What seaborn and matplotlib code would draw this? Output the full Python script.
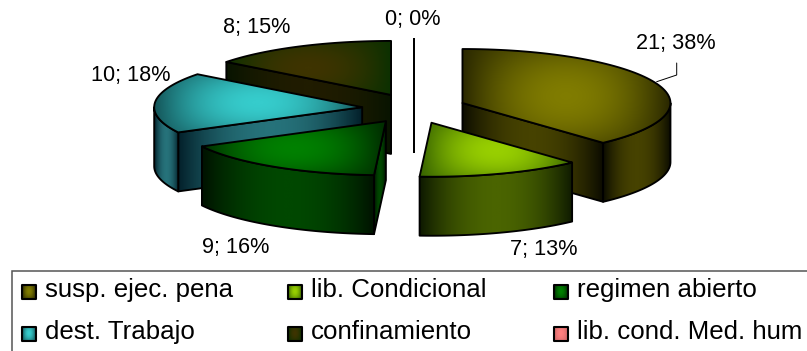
import numpy as np
import matplotlib
matplotlib.use("Agg")
import matplotlib.pyplot as plt
from matplotlib.patches import Polygon, Rectangle
import seaborn as sns

categories = ["susp. ejec. pena", "lib. Condicional", "regimen abierto",
              "dest. Trabajo", "confinamiento", "lib. cond. Med. hum"]
values = [21, 7, 9, 10, 8, 0]

# Face colours of each slice: (dark edge, bright centre)
top_shades = [("#2a2800", "#807c00"), ("#386400", "#98cf00"), ("#002c00", "#008000"),
              ("#145458", "#36cccc"), ("#0c3000", "#3e3400"), ("#cc6666", "#ff8080")]
wall_shades = [("#0c0c00", "#464200"), ("#0e1a00", "#4a6400"), ("#001200", "#004800"),
               ("#03202a", "#26727a"), ("#081400", "#201c00"), ("#662222", "#aa4444")]

# Pie geometry, in figure pixels
CX, CY = 414, 108.5
RX, RY = 208, 54
DEPTH = 59
EXPLODE_X, EXPLODE_Y = 0.25, 0.28
draw_order = [5, 4, 0, 3, 2, 1]

label_xy = [(676, 43), (544, 250), (236, 247), (131, 76), (257, 27), (413, 19)]
legend_x = [21.5, 287.5, 553.5]
legend_y = [291.5, 333.5]

sns.set_theme(style="white")
plt.rcParams["font.family"] = ["Liberation Sans", "DejaVu Sans"]

fig = plt.figure(figsize=(8.07, 3.51), dpi=100)
ax = fig.add_axes([0, 0, 1, 1])
ax.set_axis_off()
LINE = 1.35


def shaded(points, shade, mode, lw=LINE):
    """Fill a polygon with a gradient clipped to its outline and stroke it."""
    pts = np.asarray(points)
    x0, y0 = pts.min(axis=0)
    x1, y1 = pts.max(axis=0)
    if x1 - x0 >= 1 and y1 - y0 >= 1:
        xs = np.linspace(-1, 1, int(x1 - x0) + 2)
        ys = np.linspace(-1, 1, int(y1 - y0) + 2)
        u, v = np.meshgrid(xs, ys)
        t = 1 - u ** 2
        if mode == "top":
            t = t * (1 - 0.45 * v ** 2)
        cmap = sns.blend_palette(list(shade), as_cmap=True)
        im = ax.imshow(t, extent=(x0, x1, y1, y0), cmap=cmap, vmin=0, vmax=1,
                       aspect="auto", interpolation="bilinear", zorder=2)
        clip = Polygon(pts, closed=True, transform=ax.transData)
        im.set_clip_path(clip)
    ax.add_patch(Polygon(pts, closed=True, fill=False, edgecolor="black",
                         linewidth=lw, joinstyle="round", zorder=2))


def rim(cx, cy, a, b, n=80):
    th = np.radians(np.linspace(a, b, n))
    return np.column_stack([cx + RX * np.sin(th), cy - RY * np.cos(th)])


total = sum(values)
ends = np.cumsum(values) / total * 360
starts = np.concatenate([[0], ends[:-1]])

for i in draw_order:
    a, b = starts[i], ends[i]
    mid = np.radians((a + b) / 2)
    cx = CX + EXPLODE_X * RX * np.sin(mid)
    cy = CY - EXPLODE_Y * RY * np.cos(mid)
    # Radial face, where it turns toward the viewer
    for ang, visible in ((a, a > 180), (b, b < 180)):
        if visible:
            p = rim(cx, cy, ang, ang, 1)[0]
            shaded([(cx, cy), p, (p[0], p[1] + DEPTH), (cx, cy + DEPTH)], wall_shades[i], "wall")
    # Outer face between 90 and 270 degrees
    lo, hi = max(a, 90), min(b, 270)
    if lo < hi:
        arc = rim(cx, cy, lo, hi)
        lower = arc[::-1] + (0, DEPTH)
        shaded(np.vstack([arc, lower]), wall_shades[i], "wall")
    # Top face
    shaded(np.vstack([[(cx, cy)], rim(cx, cy, a, b)]), top_shades[i], "top")

# Data labels
for (x, y), v in zip(label_xy, values):
    ax.text(x, y, f"{v}; {round(100 * v / total)}%", ha="center", va="center",
            fontsize=15.6, color="black", zorder=4)

# Leader line of the largest slice
ax.plot([676.7, 676.7, 656.7], [63, 75, 81.7], color="black", lw=0.7, zorder=3)

# Legend box, running past the right and bottom edges, with its swatches
ax.add_patch(Rectangle((12, 270.5), 830, 110, facecolor="white",
                       edgecolor="#555555", linewidth=1.1, zorder=1))
for i, name in enumerate(categories):
    x = legend_x[i % 3]
    y = legend_y[i // 3]
    sw = [(x, y - 7), (x + 14, y - 7), (x + 14, y + 7), (x, y + 7)]
    shaded(sw, top_shades[i], "top", lw=1.5)
    ax.text(x + 23.5, y - 1.5, name, ha="left", va="center", fontsize=18.6, color="black", zorder=4)

ax.set_xlim(0, 807)
ax.set_ylim(351, 0)
fig.savefig("out.png", dpi=100, facecolor="white")
